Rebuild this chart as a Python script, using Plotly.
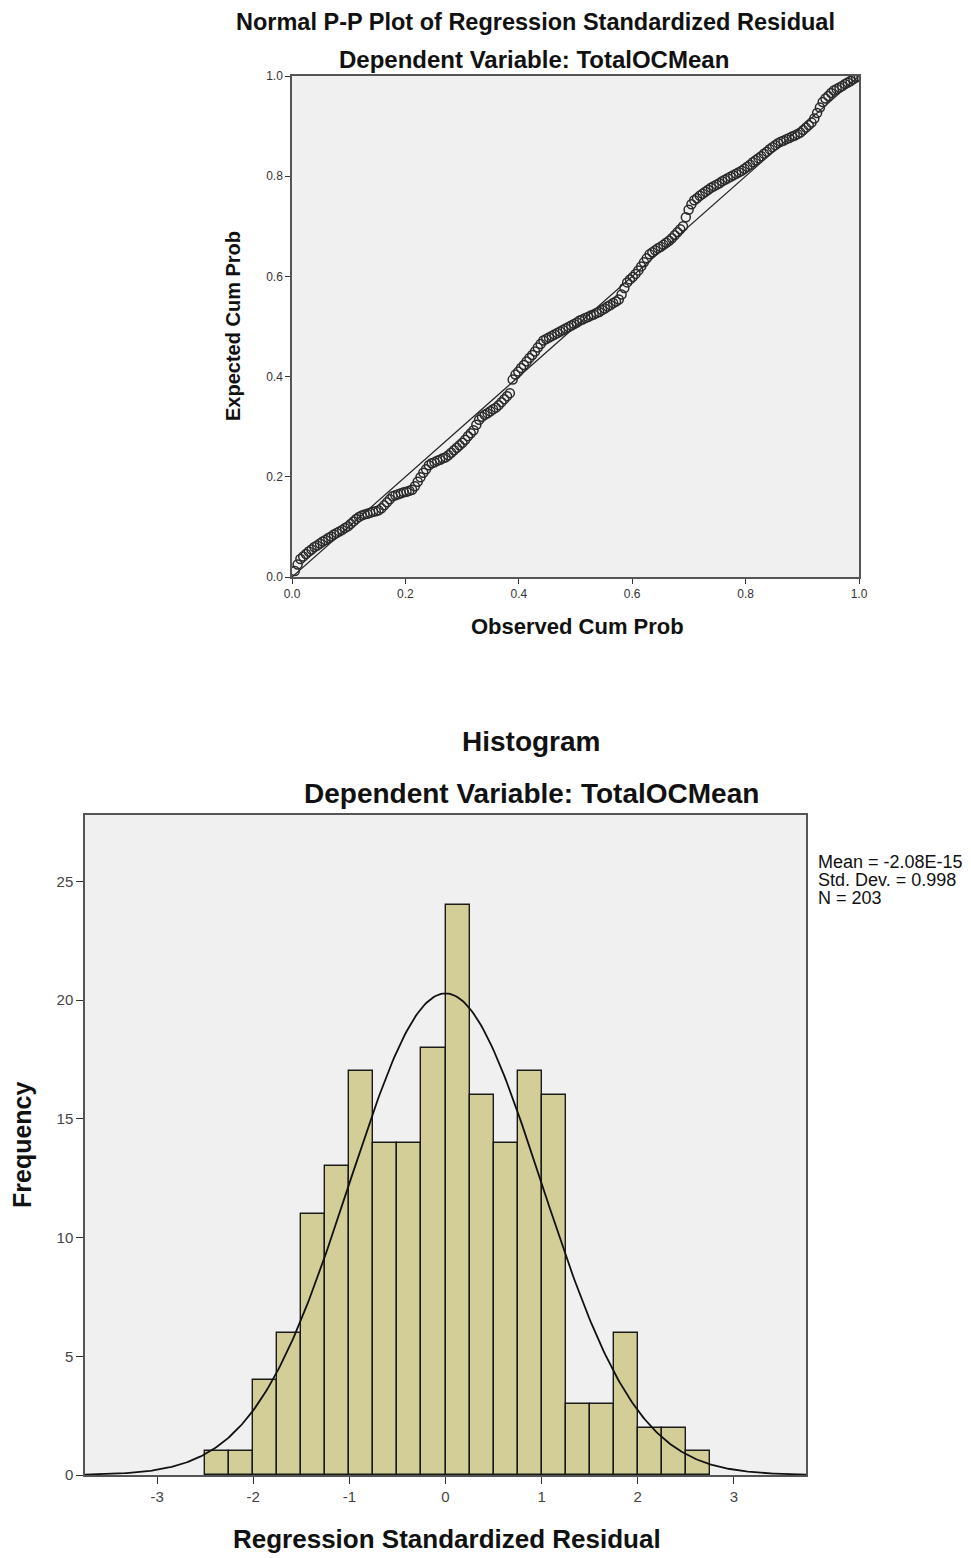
import numpy as np
import plotly.graph_objects as go

# ---------------- P-P plot data ----------------
expected_cum_prob = [
    0.012, 0.025, 0.036, 0.041, 0.046, 0.051, 0.055, 0.060, 0.063, 0.067,
    0.071, 0.074, 0.078, 0.081, 0.085, 0.088, 0.091, 0.094, 0.098, 0.101,
    0.106, 0.111, 0.116, 0.120, 0.123, 0.125, 0.126, 0.128, 0.130, 0.131,
    0.133, 0.137, 0.143, 0.149, 0.155, 0.161, 0.163, 0.165, 0.167, 0.169,
    0.170, 0.172, 0.174, 0.181, 0.190, 0.199, 0.208, 0.215, 0.223, 0.227,
    0.229, 0.232, 0.234, 0.237, 0.239, 0.243, 0.248, 0.253, 0.258, 0.263,
    0.268, 0.274, 0.281, 0.287, 0.293, 0.304, 0.314, 0.320, 0.324, 0.327,
    0.331, 0.335, 0.338, 0.343, 0.349, 0.355, 0.361, 0.367, 0.394, 0.404,
    0.410, 0.417, 0.423, 0.430, 0.437, 0.443, 0.450, 0.458, 0.465, 0.472,
    0.475, 0.478, 0.481, 0.484, 0.487, 0.490, 0.493, 0.496, 0.499, 0.502,
    0.505, 0.508, 0.512, 0.514, 0.517, 0.519, 0.522, 0.524, 0.527, 0.529,
    0.533, 0.536, 0.540, 0.543, 0.547, 0.550, 0.554, 0.564, 0.577, 0.588,
    0.594, 0.599, 0.605, 0.612, 0.620, 0.628, 0.636, 0.644, 0.648, 0.652,
    0.656, 0.659, 0.663, 0.667, 0.671, 0.676, 0.682, 0.688, 0.694, 0.700,
    0.718, 0.733, 0.744, 0.752, 0.756, 0.761, 0.765, 0.769, 0.773, 0.777,
    0.780, 0.783, 0.786, 0.790, 0.793, 0.796, 0.799, 0.802, 0.805, 0.808,
    0.811, 0.815, 0.819, 0.823, 0.828, 0.832, 0.836, 0.840, 0.845, 0.849,
    0.854, 0.858, 0.862, 0.866, 0.869, 0.871, 0.874, 0.876, 0.879, 0.881,
    0.884, 0.887, 0.892, 0.897, 0.902, 0.907, 0.915, 0.926, 0.937, 0.948,
    0.955, 0.960, 0.966, 0.971, 0.974, 0.977, 0.980, 0.984, 0.987, 0.990,
    0.994, 0.997, 0.999,
]
N_PP = len(expected_cum_prob)
# observed cumulative probability = rank / N
observed_cum_prob = [(k + 1) / N_PP for k in range(N_PP)]

pp_ticks = [0.0, 0.2, 0.4, 0.6, 0.8, 1.0]
pp_ticklabels = ["0.0", "0.2", "0.4", "0.6", "0.8", "1.0"]

# ---------------- Histogram data ----------------
bin_start = [-2.5, -2.25, -2.0, -1.75, -1.5, -1.25, -1.0, -0.75, -0.5, -0.25,
             0.0, 0.25, 0.5, 0.75, 1.0, 1.25, 1.5, 1.75, 2.0, 2.25, 2.5]
bin_count = [1, 1, 4, 6, 11, 13, 17, 14, 14, 18,
             24, 16, 14, 17, 16, 3, 3, 6, 2, 2, 1]
bin_width = 0.25
hist_mean = -2.08e-15
hist_sd = 0.998
hist_n = 203
hist_xticks = [-3, -2, -1, 0, 1, 2, 3]
hist_xticklabels = ["-3", "-2", "-1", "0", "1", "2", "3"]
hist_yticks = [0, 5, 10, 15, 20, 25]
stats_lines = ["Mean = -2.08E-15", "Std. Dev. = 0.998", "N = 203"]

FONT = "Liberation Sans, Arial, sans-serif"
PAGE_W, PAGE_H = 971, 1558
BODY = 8  # default page margin before the figure
W, H = PAGE_W - BODY, PAGE_H - BODY


def px(x):
    return (x - BODY) / W


def py(y):
    return 1 - (y - BODY) / H


fig = go.Figure()

# P-P plot
fig.add_trace(go.Scatter(
    x=[0, 1], y=[0, 1], mode="lines",
    line=dict(color="#222222", width=1.2),
    xaxis="x", yaxis="y", hoverinfo="skip", showlegend=False))
fig.add_trace(go.Scatter(
    x=observed_cum_prob, y=expected_cum_prob, mode="markers",
    marker=dict(symbol="circle-open", size=9, color="#2a2a2a",
                line=dict(width=1.5, color="#2a2a2a")),
    xaxis="x", yaxis="y", showlegend=False))

# Histogram bars
fig.add_trace(go.Bar(
    x=bin_start, y=bin_count, width=bin_width, offset=0,
    marker=dict(color="#D3CE97", line=dict(color="#1a1a1a", width=1.4)),
    xaxis="x2", yaxis="y2", showlegend=False))

# Normal curve
xc = np.linspace(-3.75, 3.75, 400)
yc = hist_n * bin_width / (hist_sd * np.sqrt(2 * np.pi)) * np.exp(-0.5 * ((xc - hist_mean) / hist_sd) ** 2)
fig.add_trace(go.Scatter(
    x=xc, y=yc, mode="lines", line=dict(color="#111111", width=1.8),
    xaxis="x2", yaxis="y2", hoverinfo="skip", showlegend=False))

axis_common = dict(showgrid=False, zeroline=False, showline=True, mirror=True,
                   ticks="outside", tickcolor="#333333", linecolor="#555555",
                   linewidth=1.5, automargin=False)

fig.update_layout(
    template="none",
    width=W, height=H,
    margin=dict(l=0, r=0, t=0, b=0, pad=0, autoexpand=False),
    paper_bgcolor="white",
    plot_bgcolor="#F0F0F0",
    font=dict(family=FONT, color="#111111"),
    xaxis=dict(domain=[px(292), px(859)], range=[0, 1], anchor="y",
               tickvals=pp_ticks, ticktext=pp_ticklabels, ticklen=5,
               tickfont=dict(size=12, color="#333333"), **axis_common),
    yaxis=dict(domain=[py(577), py(76)], range=[0, 1], anchor="x",
               tickvals=pp_ticks, ticktext=pp_ticklabels, ticklen=5,
               tickfont=dict(size=12, color="#333333"), **axis_common),
    xaxis2=dict(domain=[px(85), px(806)], range=[-3.75, 3.75], anchor="y2",
                tickvals=hist_xticks, ticktext=hist_xticklabels, ticklen=7,
                tickfont=dict(size=15, color="#444444"), **axis_common),
    yaxis2=dict(domain=[py(1475), py(815)], range=[0, 27.8], anchor="x2",
                tickvals=hist_yticks, ticklen=7,
                tickfont=dict(size=15, color="#444444"), **axis_common),
    bargap=0,
    showlegend=False,
)

annotations = [
    dict(text="<b>Normal P-P Plot of Regression Standardized Residual</b>",
         x=px(535), y=py(22), font=dict(size=23.5)),
    dict(text="<b>Dependent Variable: TotalOCMean</b>",
         x=px(534), y=py(59), font=dict(size=24)),
    dict(text="<b>Observed Cum Prob</b>", x=px(577), y=py(626), font=dict(size=22)),
    dict(text="<b>Expected Cum Prob</b>", x=px(233), y=py(326), font=dict(size=20),
         textangle=-90),
    dict(text="<b>Histogram</b>", x=px(531), y=py(741), font=dict(size=28)),
    dict(text="<b>Dependent Variable: TotalOCMean</b>", x=px(531), y=py(793),
         font=dict(size=28)),
    dict(text="<b>Regression Standardized Residual</b>", x=px(447), y=py(1539),
         font=dict(size=26)),
    dict(text="<b>Frequency</b>", x=px(22), y=py(1145), font=dict(size=25),
         textangle=-90),
]
for a in annotations:
    a.update(xref="paper", yref="paper", showarrow=False,
             xanchor="center", yanchor="middle")
    a["font"].update(family=FONT, color="#111111")
    fig.add_annotation(**a)

stats_y = [862, 880, 898]
for line, yy in zip(stats_lines, stats_y):
    fig.add_annotation(
        text=line, xref="paper", yref="paper", x=px(816), y=py(yy),
        xanchor="left", yanchor="middle", align="left", showarrow=False,
        font=dict(family=FONT, size=18, color="#111111"))

fig.write_html("out.html")
